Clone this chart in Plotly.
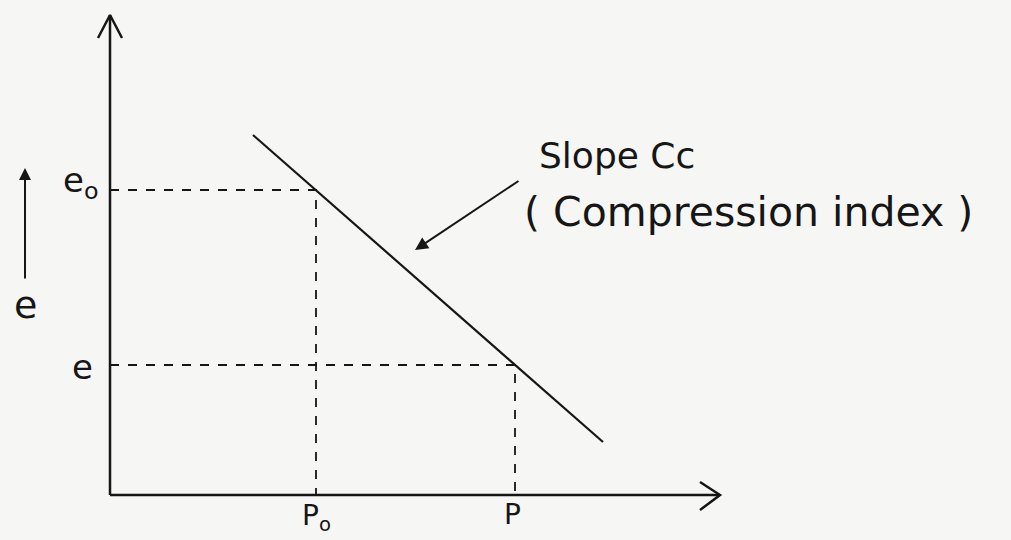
import plotly.graph_objects as go

# e - log p style sketch (arbitrary units)
line_x = [1.43, 4.93]
line_y = [3.60, 0.53]

p_names = ["P<sub>o</sub>", "P"]
p_values = [2.06, 4.05]
e_names = ["e<sub>o</sub>", "e"]
e_values = [3.05, 1.30]

x_axis_end = 6.10
y_axis_end = 4.80

ink = "#161616"
paper = "#f6f6f4"
font = "DejaVu Sans"

fig = go.Figure()

# axes
fig.add_trace(go.Scatter(x=[0, 0], y=[0, y_axis_end], mode="lines",
                         line=dict(color=ink, width=2.5), hoverinfo="skip"))
fig.add_trace(go.Scatter(x=[0, x_axis_end], y=[0, 0], mode="lines",
                         line=dict(color=ink, width=2.5), hoverinfo="skip"))
# open chevrons at axis ends
fig.add_trace(go.Scatter(x=[-0.12, 0, 0.12], y=[y_axis_end - 0.23, y_axis_end, y_axis_end - 0.23],
                         mode="lines", line=dict(color=ink, width=2.5), hoverinfo="skip"))
fig.add_trace(go.Scatter(x=[x_axis_end - 0.2, x_axis_end, x_axis_end - 0.2], y=[0.13, 0, -0.15],
                         mode="lines", line=dict(color=ink, width=2.5), hoverinfo="skip"))

# compression line
fig.add_trace(go.Scatter(x=line_x, y=line_y, mode="lines",
                         line=dict(color=ink, width=2.2), hoverinfo="skip"))

# dashed guides
for p, e in zip(p_values, e_values):
    fig.add_trace(go.Scatter(x=[0, p, p], y=[e, e, 0], mode="lines",
                             line=dict(color=ink, width=1.8, dash="dash"), hoverinfo="skip"))

# labels
fig.add_annotation(x=-0.30, y=e_values[0] + 0.08, text=e_names[0], showarrow=False,
                   font=dict(size=34, color=ink, family=font))
fig.add_annotation(x=-0.28, y=e_values[1] - 0.02, text=e_names[1], showarrow=False,
                   font=dict(size=34, color=ink, family=font))
fig.add_annotation(x=p_values[0], y=-0.22, text=p_names[0], showarrow=False,
                   font=dict(size=28, color=ink, family=font))
fig.add_annotation(x=p_values[1] - 0.03, y=-0.19, text=p_names[1], showarrow=False,
                   font=dict(size=28, color=ink, family=font))

# e with upward arrow on the left
fig.add_annotation(x=-0.85, y=1.90, text="e", showarrow=False,
                   font=dict(size=38, color=ink, family=font))
fig.add_annotation(x=-0.85, y=3.27, ax=-0.85, ay=2.15, xref="x", yref="y", axref="x", ayref="y",
                   text="", showarrow=True, arrowhead=2, arrowsize=1.2, arrowwidth=2, arrowcolor=ink)

# slope callout
fig.add_annotation(x=3.05, y=2.45, ax=4.10, ay=3.15, xref="x", yref="y", axref="x", ayref="y",
                   text="", showarrow=True, arrowhead=2, arrowsize=1.3, arrowwidth=2, arrowcolor=ink)
fig.add_annotation(x=4.27, y=3.40, text="Slope Cc", showarrow=False, xanchor="left",
                   font=dict(size=36, color=ink, family=font))
fig.add_annotation(x=4.12, y=2.83, text="( Compression index )", showarrow=False, xanchor="left",
                   font=dict(size=41, color=ink, family=font))

fig.update_layout(
    width=1011, height=540,
    margin=dict(l=0, r=0, t=0, b=0),
    paper_bgcolor=paper, plot_bgcolor=paper,
    showlegend=False,
    xaxis=dict(range=[-1.10, 9.01], visible=False, fixedrange=True),
    yaxis=dict(range=[-0.45, 4.95], visible=False, fixedrange=True),
)

fig.write_html("out.html", config={"displayModeBar": False},
               post_script="document.body.style.margin='0';")
